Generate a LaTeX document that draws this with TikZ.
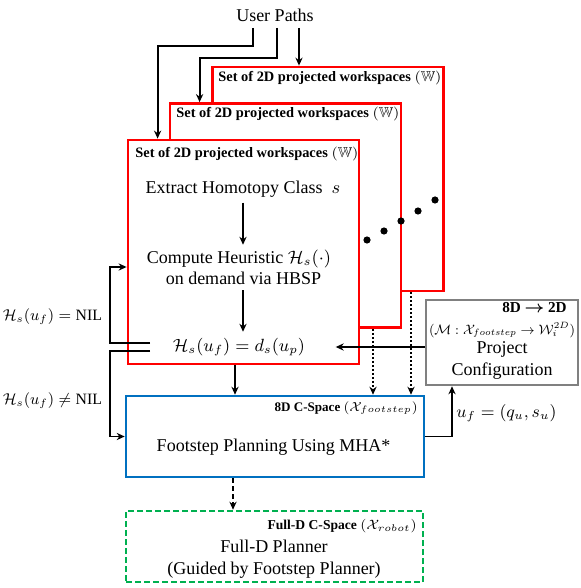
\documentclass[tikz,border=0pt]{standalone}
\usepackage{amssymb}
\usepackage{graphicx}
\usepackage{fontspec}
\setmainfont{Liberation Serif}
\usetikzlibrary{arrows.meta,calc}
\definecolor{wsred}{RGB}{255,0,0}
\definecolor{csblue}{RGB}{0,112,192}
\definecolor{fdgreen}{RGB}{0,176,80}
\definecolor{pcgray}{RGB}{128,128,128}
\newcommand{\fitw}[2]{\resizebox{#1}{!}{#2}}
\begin{document}
\begin{tikzpicture}[x=0.5pt,y=-0.5pt,
  txt/.style={font=\fontsize{9}{10.5}\selectfont, inner sep=2.5pt, align=center},
  lbl/.style={font=\fontsize{7.2}{8.5}\selectfont\bfseries, inner sep=0pt},
  slbl/.style={lbl, font=\fontsize{7}{8}\selectfont\bfseries},
  ws/.style={draw=wsred, line width=1.4pt, fill=white, minimum width=115.5pt, minimum height=112pt, inner sep=0pt},
  arr/.style={line width=0.9pt, -{Stealth[length=4pt,width=3.6pt]}},
  dotarr/.style={arr, dash pattern=on 1pt off 1pt},
  dasharr/.style={arr, dash pattern=on 2.5pt off 1.5pt},
  dot/.style={fill=black}
]
\useasboundingbox (0,0) rectangle (581,588);

% user paths
\node[txt] (up) at (275,15) {User Paths};
\coordinate (up1) at (253,28);
\coordinate (up2) at (277,28);
\coordinate (up3) at (299,28);

% workspace boxes
\node[ws] (box3) at (328,179) {};
\node[ws] (box2) at (285.5,215.5) {};
\node[ws] (box1) at (243.5,252) {};

\node[lbl, anchor=west] (l3) at (218,78) {Set of 2D projected workspaces $(\mathbb{W})$};
\node[lbl, anchor=west] (l2) at (176,114) {Set of 2D projected workspaces $(\mathbb{W})$};
\node[lbl, anchor=west] (l1) at (135,154) {Set of 2D projected workspaces $(\mathbb{W})$};

\draw[arr] (up1) -- (253,46) -| ([xshift=15.5pt]box1.north west);
\draw[arr] (up2) -- (277,58) -| ([xshift=15.5pt]box2.north west);
\draw[arr] (up3) -- (up3 |- box3.north);

% dots
\foreach \p in {(367,240),(384,231),(401,221),(418,211),(435,200)} \fill[dot] \p circle (1.8pt);

% front box content
\node[txt] (t1) at (243,189) {Extract Homotopy Class~ $s$};
\node[txt] (t2) at (239,267.5) {Compute Heuristic $\mathcal{H}_s(\cdot)$\\ ~~on demand via HBSP};
\node[txt, inner sep=3pt] (t3) at (239,347) {\fitw{66pt}{$\mathcal{H}_s(u_f) = d_s(u_p)$}};
\draw[arr] (t1.south) -- (t1.south |- t2.north);
\draw[arr] (t1.south |- t2.south) -- (t1.south |- t3.north);

% project configuration
\node[draw=pcgray, line width=1.3pt, minimum width=76pt, minimum height=42.5pt, inner sep=0pt] (proj) at (502,342.5) {};
\node[lbl, anchor=east, font=\fontsize{7.6}{9}\selectfont\bfseries] (pl) at (567,307.5) {8D {\boldmath$\rightarrow$} 2D};
\node[txt, inner sep=0pt] (pf) at (502,330) {\fitw{73pt}{$(\mathcal{M}:\mathcal{X}_{footstep}\rightarrow\mathcal{W}_i^{2D})$}};
\node[txt, inner sep=0pt] (pt) at (502,360) {Project\\[0.5pt]Configuration};
\draw[arr] (proj.west |- t3) -- ++(-89,0);

% footstep planner
\node[draw=csblue, line width=1.3pt, minimum width=149pt, minimum height=40.5pt, inner sep=0pt] (fs) at (275,436.5) {};
\node[slbl, anchor=east] (fsl) at (418,408) {\fitw{71.5pt}{8D C-Space $(\mathcal{X}_{footstep})$}};
\node[txt] (fst) at (273.5,447) {Footstep Planning Using MHA*};

\draw[arr] ([xshift=-4.25pt]box1.south) -- ([xshift=-4.25pt]box1.south |- fs.north);
\draw[dotarr] ([xshift=43.75pt]box2.south) -- ([xshift=43.75pt]box2.south |- fs.north);
\draw[dotarr] ([xshift=41.5pt]box3.south) -- ([xshift=41.5pt]box3.south |- fs.north);

\draw[arr] (fs.east) -| ([xshift=-25pt]proj.south);
\node[txt, anchor=west, inner sep=0pt] (uf) at (456,413) {\fitw{50pt}{$u_f = (q_u, s_u)$}};

% feedback
\coordinate (fbA) at (150,343);
\coordinate (fbB) at (150,351);
\draw[arr] (fbA) -- (110,343) |- ([yshift=-7.5pt]box1.west);
\draw[arr] (fbB) -- (110,351) |- (fs.west);
\node[txt, inner sep=0pt] (nil) at (52.5,317) {\fitw{49.5pt}{$\mathcal{H}_s(u_f) = \mbox{NIL}$}};
\node[txt, inner sep=0pt] (nnil) at (52.5,401) {\fitw{49.5pt}{$\mathcal{H}_s(u_f) \neq \mbox{NIL}$}};

% full-D planner
\node[draw=fdgreen, line width=1.3pt, dash pattern=on 3pt off 1.5pt, minimum width=148.5pt, minimum height=35.5pt, inner sep=0pt] (fd) at (274.5,546.5) {};
\node[slbl, anchor=east] (fdl) at (417,526) {\fitw{74.5pt}{Full-D C-Space $(\mathcal{X}_{robot})$}};
\node[txt, font=\fontsize{9}{11}\selectfont] (fdt) at (274,559) {Full-D Planner\\(Guided by Footstep Planner)};
\draw[dasharr] ([xshift=-21pt]fs.south) -- ([xshift=-21pt]fs.south |- fd.north);
\end{tikzpicture}
\end{document}
